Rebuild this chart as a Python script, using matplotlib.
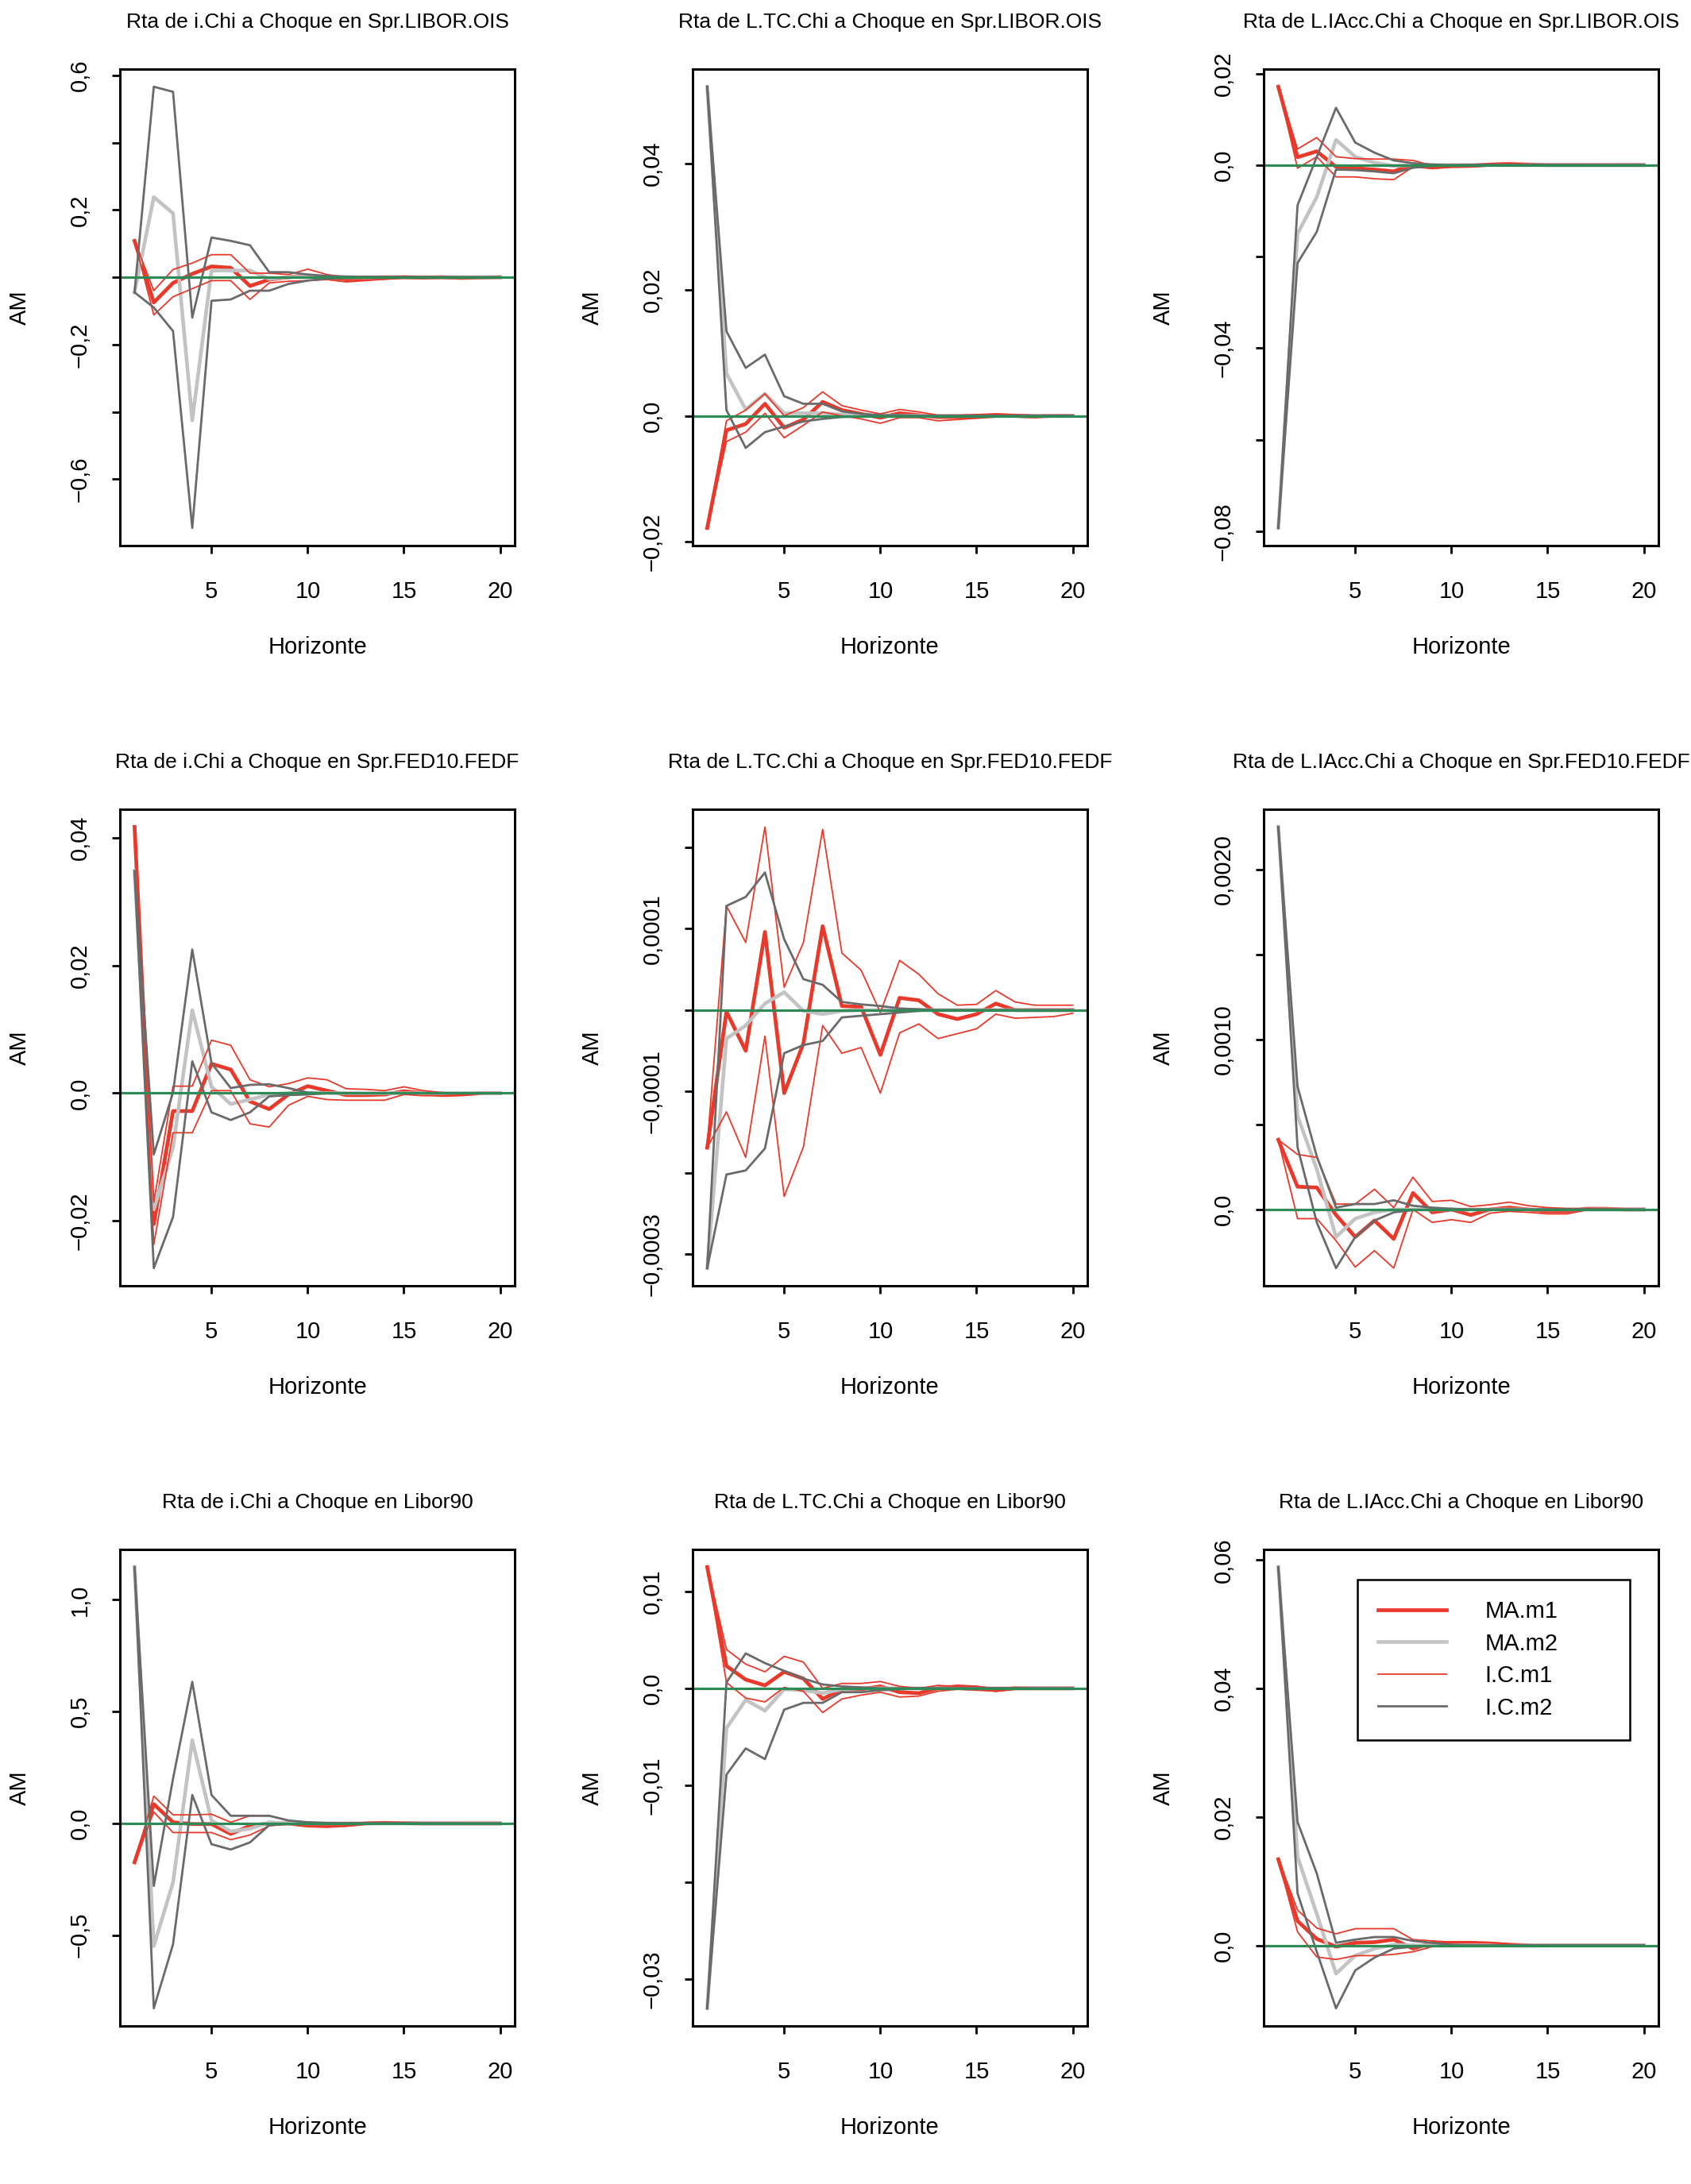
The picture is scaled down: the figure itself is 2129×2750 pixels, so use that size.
import numpy as np
import matplotlib
matplotlib.use('Agg')
import matplotlib.pyplot as plt

plt.rcParams['font.family'] = ['Liberation Sans', 'DejaVu Sans']

horizon = np.arange(1, 21)
xticks = [5, 10, 15, 20]

# ---- panel 1: i.Chi / Spr.LIBOR.OIS
p1_ma1 = [0.108, -0.075, -0.017, 0.010, 0.032, 0.028, -0.026, -0.007, 0.000, 0.005, 0.000, -0.006, -0.005, -0.002, 0.000, -0.001, 0.000, -0.002, -0.001, 0.000]
p1_hi1 = [0.108, -0.040, 0.023, 0.042, 0.067, 0.067, 0.012, 0.012, 0.008, 0.024, 0.008, 0.000, 0.002, 0.003, 0.003, 0.002, 0.002, 0.001, 0.001, 0.001]
p1_lo1 = [0.108, -0.112, -0.058, -0.034, -0.010, -0.010, -0.066, -0.017, -0.012, -0.010, -0.007, -0.014, -0.010, -0.006, -0.003, -0.004, -0.003, -0.004, -0.002, -0.001]
p1_ma2 = [-0.045, 0.238, 0.190, -0.425, 0.020, 0.020, 0.020, -0.005, 0.000, 0.002, 0.001, 0.000, 0.000, 0.000, 0.000, 0.000, 0.000, 0.000, 0.000, 0.000]
p1_hi2 = [-0.045, 0.566, 0.551, -0.120, 0.118, 0.108, 0.095, 0.015, 0.015, 0.008, 0.004, 0.002, 0.001, 0.001, 0.000, 0.000, 0.000, 0.000, 0.000, 0.000]
p1_lo2 = [-0.045, -0.090, -0.160, -0.745, -0.070, -0.066, -0.040, -0.040, -0.020, -0.010, -0.004, -0.002, -0.001, -0.001, 0.000, 0.000, 0.000, 0.000, 0.000, 0.000]

# ---- panel 2: L.TC.Chi / Spr.LIBOR.OIS
p2_ma1 = [-0.0178, -0.0023, -0.0013, 0.0019, -0.0019, -0.0006, 0.0022, 0.0009, 0.0003, -0.0003, 0.0004, 0.0001, -0.0002, -0.0002, -0.0001, 0.0001, 0.0000, -0.0001, 0.0000, 0.0000]
p2_hi1 = [-0.0178, -0.0008, 0.0009, 0.0035, 0.0000, 0.0013, 0.0038, 0.0016, 0.0009, 0.0003, 0.0010, 0.0006, 0.0001, 0.0001, 0.0002, 0.0003, 0.0002, 0.0001, 0.0001, 0.0001]
p2_lo1 = [-0.0178, -0.0041, -0.0026, 0.0004, -0.0035, -0.0015, 0.0006, 0.0000, -0.0005, -0.0012, -0.0003, -0.0003, -0.0008, -0.0006, -0.0004, -0.0002, -0.0002, -0.0003, -0.0001, -0.0001]
p2_ma2 = [0.0522, 0.0067, 0.0010, 0.0035, 0.0004, 0.0004, 0.0004, 0.0002, 0.0001, 0.0000, 0.0000, 0.0000, 0.0000, 0.0000, 0.0000, 0.0000, 0.0000, 0.0000, 0.0000, 0.0000]
p2_hi2 = [0.0522, 0.0134, 0.0076, 0.0097, 0.0031, 0.0019, 0.0019, 0.0007, 0.0003, 0.0001, 0.0001, 0.0000, 0.0000, 0.0000, 0.0000, 0.0000, 0.0000, 0.0000, 0.0000, 0.0000]
p2_lo2 = [0.0522, 0.0009, -0.0051, -0.0026, -0.0017, -0.0009, -0.0005, -0.0002, -0.0001, 0.0000, 0.0000, 0.0000, 0.0000, 0.0000, 0.0000, 0.0000, 0.0000, 0.0000, 0.0000, 0.0000]

# ---- panel 3: L.IAcc.Chi / Spr.LIBOR.OIS
p3_ma1 = [0.0171, 0.0017, 0.0030, -0.0004, -0.0007, -0.0010, -0.0014, 0.0001, -0.0004, -0.0002, -0.0002, 0.0001, 0.0002, 0.0001, 0.0000, 0.0000, 0.0000, 0.0000, 0.0000, 0.0000]
p3_hi1 = [0.0171, 0.0035, 0.0060, 0.0018, 0.0014, 0.0013, 0.0013, 0.0010, -0.0001, 0.0000, 0.0001, 0.0003, 0.0004, 0.0002, 0.0001, 0.0001, 0.0001, 0.0000, 0.0000, 0.0000]
p3_lo1 = [0.0171, -0.0007, 0.0018, -0.0026, -0.0026, -0.0030, -0.0032, -0.0004, -0.0008, -0.0005, -0.0004, -0.0002, 0.0000, -0.0001, -0.0001, -0.0001, 0.0000, 0.0000, 0.0000, 0.0000]
p3_ma2 = [-0.0793, -0.0150, -0.0070, 0.0055, 0.0018, 0.0005, -0.0002, 0.0000, 0.0000, 0.0000, 0.0000, 0.0000, 0.0000, 0.0000, 0.0000, 0.0000, 0.0000, 0.0000, 0.0000, 0.0000]
p3_hi2 = [-0.0793, -0.0088, 0.0018, 0.0125, 0.0049, 0.0027, 0.0010, 0.0004, 0.0001, 0.0000, 0.0000, 0.0000, 0.0000, 0.0000, 0.0000, 0.0000, 0.0000, 0.0000, 0.0000, 0.0000]
p3_lo2 = [-0.0793, -0.0214, -0.0146, -0.0010, -0.0011, -0.0014, -0.0018, -0.0006, -0.0002, -0.0001, 0.0000, 0.0000, 0.0000, 0.0000, 0.0000, 0.0000, 0.0000, 0.0000, 0.0000, 0.0000]

# ---- panel 4: i.Chi / Spr.FED10.FEDF
p4_ma1 = [0.0417, -0.0205, -0.0028, -0.0028, 0.0046, 0.0037, -0.0013, -0.0025, -0.0002, 0.0011, 0.0004, -0.0003, -0.0003, -0.0002, 0.0003, 0.0000, -0.0003, -0.0002, 0.0000, 0.0000]
p4_hi1 = [0.0417, -0.0171, 0.0011, 0.0011, 0.0083, 0.0075, 0.0021, 0.0010, 0.0015, 0.0024, 0.0021, 0.0007, 0.0006, 0.0004, 0.0010, 0.0004, 0.0001, 0.0000, 0.0000, 0.0000]
p4_lo1 = [0.0417, -0.0237, -0.0062, -0.0062, 0.0004, 0.0004, -0.0048, -0.0053, -0.0019, -0.0005, -0.0010, -0.0011, -0.0011, -0.0011, -0.0002, -0.0004, -0.0004, -0.0003, -0.0001, 0.0000]
p4_ma2 = [0.0348, -0.0182, -0.0085, 0.0130, 0.0010, -0.0017, -0.0010, -0.0002, 0.0000, 0.0000, 0.0000, 0.0000, 0.0000, 0.0000, 0.0000, 0.0000, 0.0000, 0.0000, 0.0000, 0.0000]
p4_hi2 = [0.0348, -0.0096, 0.0001, 0.0225, 0.0047, 0.0008, 0.0013, 0.0014, 0.0008, 0.0001, 0.0000, 0.0000, 0.0000, 0.0000, 0.0000, 0.0000, 0.0000, 0.0000, 0.0000, 0.0000]
p4_lo2 = [0.0348, -0.0274, -0.0194, 0.0050, -0.0030, -0.0042, -0.0030, -0.0005, -0.0003, -0.0002, 0.0000, 0.0000, 0.0000, 0.0000, 0.0000, 0.0000, 0.0000, 0.0000, 0.0000, 0.0000]

# ---- panel 5: L.TC.Chi / Spr.FED10.FEDF
p5_ma1 = [-1.69e-4, -0.02e-4, -0.50e-4, 0.96e-4, -1.02e-4, -0.41e-4, 1.03e-4, 0.05e-4, 0.04e-4, -0.55e-4, 0.15e-4, 0.12e-4, -0.05e-4, -0.11e-4, -0.05e-4, 0.08e-4, 0.00, 0.00, 0.00, 0.00]
p5_hi1 = [-1.66e-4, 1.28e-4, 0.83e-4, 2.25e-4, 0.28e-4, 0.83e-4, 2.22e-4, 0.70e-4, 0.49e-4, -0.03e-4, 0.61e-4, 0.44e-4, 0.20e-4, 0.06e-4, 0.07e-4, 0.24e-4, 0.10e-4, 0.06e-4, 0.06e-4, 0.06e-4]
p5_lo1 = [-1.69e-4, -1.25e-4, -1.81e-4, -0.32e-4, -2.29e-4, -1.68e-4, -0.19e-4, -0.53e-4, -0.46e-4, -1.02e-4, -0.28e-4, -0.17e-4, -0.35e-4, -0.29e-4, -0.23e-4, -0.05e-4, -0.10e-4, -0.09e-4, -0.08e-4, -0.04e-4]
p5_ma2 = [-3.17e-4, -0.35e-4, -0.19e-4, 0.08e-4, 0.22e-4, -0.01e-4, -0.05e-4, -0.01e-4, 0.00, 0.00, 0.00, 0.00, 0.00, 0.00, 0.00, 0.00, 0.00, 0.00, 0.00, 0.00]
p5_hi2 = [-3.17e-4, 1.28e-4, 1.39e-4, 1.69e-4, 0.87e-4, 0.38e-4, 0.31e-4, 0.10e-4, 0.07e-4, 0.05e-4, 0.02e-4, 0.01e-4, 0.00, 0.00, 0.00, 0.00, 0.00, 0.00, 0.00, 0.00]
p5_lo2 = [-3.17e-4, -2.02e-4, -1.97e-4, -1.70e-4, -0.53e-4, -0.43e-4, -0.38e-4, -0.09e-4, -0.07e-4, -0.05e-4, -0.03e-4, -0.01e-4, 0.00, 0.00, 0.00, 0.00, 0.00, 0.00, 0.00, 0.00]

# ---- panel 6: L.IAcc.Chi / Spr.FED10.FEDF
p6_ma1 = [4.10e-4, 1.34e-4, 1.29e-4, -0.32e-4, -1.62e-4, -0.65e-4, -1.73e-4, 0.97e-4, -0.17e-4, 0.00, -0.32e-4, 0.00, 0.11e-4, 0.00, -0.11e-4, -0.11e-4, 0.04e-4, 0.04e-4, 0.00, 0.00]
p6_hi1 = [4.10e-4, 3.24e-4, 3.06e-4, 0.32e-4, 0.32e-4, 1.19e-4, 0.11e-4, 1.90e-4, 0.47e-4, 0.54e-4, 0.17e-4, 0.28e-4, 0.43e-4, 0.22e-4, 0.11e-4, 0.06e-4, 0.06e-4, 0.04e-4, 0.02e-4, 0.00]
p6_lo1 = [4.10e-4, -0.54e-4, -0.54e-4, -1.83e-4, -3.39e-4, -2.42e-4, -3.45e-4, 0.00, -0.76e-4, -0.60e-4, -0.76e-4, -0.22e-4, -0.11e-4, -0.17e-4, -0.26e-4, -0.26e-4, -0.04e-4, -0.04e-4, -0.02e-4, 0.00]
p6_ma2 = [22.5e-4, 5.50e-4, 2.37e-4, -1.62e-4, -0.54e-4, -0.17e-4, 0.00, 0.00, 0.00, 0.00, 0.00, 0.00, 0.00, 0.00, 0.00, 0.00, 0.00, 0.00, 0.00, 0.00]
p6_hi2 = [22.5e-4, 7.23e-4, 3.13e-4, 0.11e-4, 0.32e-4, 0.32e-4, 0.54e-4, 0.22e-4, 0.11e-4, 0.04e-4, 0.00, 0.00, 0.00, 0.00, 0.00, 0.00, 0.00, 0.00, 0.00, 0.00]
p6_lo2 = [22.5e-4, 3.67e-4, -0.76e-4, -3.45e-4, -1.62e-4, -0.65e-4, -0.17e-4, -0.04e-4, 0.00, 0.00, 0.00, 0.00, 0.00, 0.00, 0.00, 0.00, 0.00, 0.00, 0.00, 0.00]

# ---- panel 7: i.Chi / Libor90
p7_ma1 = [-0.174, 0.086, 0.005, -0.003, -0.003, -0.047, -0.011, 0.000, 0.000, -0.010, -0.012, -0.008, 0.000, 0.002, 0.001, 0.000, 0.000, 0.000, 0.000, 0.000]
p7_hi1 = [-0.174, 0.122, 0.038, 0.038, 0.041, 0.005, 0.034, 0.034, 0.013, 0.005, 0.002, 0.002, 0.004, 0.006, 0.003, 0.001, 0.001, 0.000, 0.000, 0.000]
p7_lo1 = [-0.174, 0.051, -0.041, -0.041, -0.041, -0.073, -0.052, -0.011, -0.003, -0.014, -0.016, -0.012, -0.004, -0.002, -0.002, -0.001, -0.001, 0.000, 0.000, 0.000]
p7_ma2 = [1.146, -0.549, -0.264, 0.372, 0.013, -0.036, -0.024, 0.005, 0.000, 0.000, 0.000, 0.000, 0.000, 0.000, 0.000, 0.000, 0.000, 0.000, 0.000, 0.000]
p7_hi2 = [1.146, -0.280, 0.200, 0.633, 0.127, 0.034, 0.034, 0.034, 0.013, 0.005, 0.002, 0.000, 0.000, 0.000, 0.000, 0.000, 0.000, 0.000, 0.000, 0.000]
p7_lo2 = [1.146, -0.827, -0.541, 0.127, -0.093, -0.117, -0.085, -0.008, -0.003, -0.002, -0.001, 0.000, 0.000, 0.000, 0.000, 0.000, 0.000, 0.000, 0.000, 0.000]

# ---- panel 8: L.TC.Chi / Libor90
p8_ma1 = [0.0125, 0.0023, 0.0009, 0.0003, 0.0017, 0.0010, -0.0011, -0.0001, -0.0001, 0.0002, -0.0004, -0.0005, 0.0000, 0.0002, 0.0001, -0.0002, 0.0000, 0.0000, 0.0000, 0.0000]
p8_hi1 = [0.0125, 0.0040, 0.0025, 0.0017, 0.0033, 0.0027, 0.0000, 0.0005, 0.0005, 0.0007, 0.0002, 0.0000, 0.0003, 0.0002, 0.0002, 0.0000, 0.0001, 0.0000, 0.0000, 0.0000]
p8_lo1 = [0.0125, 0.0006, -0.0010, -0.0014, 0.0001, -0.0003, -0.0025, -0.0011, -0.0007, -0.0004, -0.0009, -0.0008, -0.0003, -0.0001, -0.0002, -0.0003, -0.0001, -0.0001, 0.0000, 0.0000]
p8_ma2 = [-0.0330, -0.0041, -0.0012, -0.0023, -0.0001, -0.0002, -0.0005, -0.0001, 0.0000, 0.0000, 0.0000, 0.0000, 0.0000, 0.0000, 0.0000, 0.0000, 0.0000, 0.0000, 0.0000, 0.0000]
p8_hi2 = [-0.0330, 0.0006, 0.0036, 0.0026, 0.0018, 0.0010, 0.0004, 0.0002, 0.0001, 0.0000, 0.0000, 0.0000, 0.0000, 0.0000, 0.0000, 0.0000, 0.0000, 0.0000, 0.0000, 0.0000]
p8_lo2 = [-0.0330, -0.0089, -0.0062, -0.0073, -0.0022, -0.0015, -0.0015, -0.0004, -0.0004, -0.0002, -0.0001, 0.0000, 0.0000, 0.0000, 0.0000, 0.0000, 0.0000, 0.0000, 0.0000, 0.0000]

# ---- panel 9: L.IAcc.Chi / Libor90
p9_ma1 = [0.0134, 0.0038, 0.0010, -0.0002, 0.0004, 0.0005, 0.0009, -0.0005, 0.0004, 0.0004, 0.0004, 0.0003, 0.0001, 0.0000, 0.0000, 0.0000, 0.0000, 0.0000, 0.0000, 0.0000]
p9_hi1 = [0.0134, 0.0055, 0.0027, 0.0018, 0.0026, 0.0026, 0.0026, 0.0009, 0.0007, 0.0005, 0.0005, 0.0004, 0.0002, 0.0001, 0.0000, 0.0000, 0.0000, 0.0000, 0.0000, 0.0000]
p9_lo1 = [0.0134, 0.0021, -0.0018, -0.0022, -0.0016, -0.0016, -0.0014, -0.0010, -0.0002, -0.0002, -0.0001, 0.0000, 0.0000, 0.0000, 0.0000, 0.0000, 0.0000, 0.0000, 0.0000, 0.0000]
p9_ma2 = [0.0589, 0.0138, 0.0049, -0.0044, -0.0016, -0.0005, 0.0001, 0.0000, 0.0000, 0.0000, 0.0000, 0.0000, 0.0000, 0.0000, 0.0000, 0.0000, 0.0000, 0.0000, 0.0000, 0.0000]
p9_hi2 = [0.0589, 0.0192, 0.0112, 0.0004, 0.0009, 0.0013, 0.0013, 0.0007, 0.0004, 0.0001, 0.0000, 0.0000, 0.0000, 0.0000, 0.0000, 0.0000, 0.0000, 0.0000, 0.0000, 0.0000]
p9_lo2 = [0.0589, 0.0081, -0.0010, -0.0098, -0.0039, -0.0019, -0.0005, -0.0002, -0.0001, 0.0000, 0.0000, 0.0000, 0.0000, 0.0000, 0.0000, 0.0000, 0.0000, 0.0000, 0.0000, 0.0000]

titles = ['Rta de i.Chi a Choque en Spr.LIBOR.OIS',
          'Rta de L.TC.Chi a Choque en Spr.LIBOR.OIS',
          'Rta de L.IAcc.Chi a Choque en Spr.LIBOR.OIS',
          'Rta de i.Chi a Choque en Spr.FED10.FEDF',
          'Rta de L.TC.Chi a Choque en Spr.FED10.FEDF',
          'Rta de L.IAcc.Chi a Choque en Spr.FED10.FEDF',
          'Rta de i.Chi a Choque en Libor90',
          'Rta de L.TC.Chi a Choque en Libor90',
          'Rta de L.IAcc.Chi a Choque en Libor90']

yticks = [[-0.6, -0.4, -0.2, 0.0, 0.2, 0.4, 0.6],
          [-0.02, 0.0, 0.02, 0.04],
          [-0.08, -0.06, -0.04, -0.02, 0.0, 0.02],
          [-0.02, 0.0, 0.02, 0.04],
          [-0.0003, -0.0002, -0.0001, 0.0, 0.0001, 0.0002],
          [0.0, 0.0005, 0.0010, 0.0015, 0.0020],
          [-0.5, 0.0, 0.5, 1.0],
          [-0.03, -0.02, -0.01, 0.0, 0.01],
          [0.0, 0.02, 0.04, 0.06]]
ylabels = [['\u22120,6', '', '\u22120,2', '', '0,2', '', '0,6'],
           ['\u22120,02', '0,0', '0,02', '0,04'],
           ['\u22120,08', '', '\u22120,04', '', '0,0', '0,02'],
           ['\u22120,02', '0,0', '0,02', '0,04'],
           ['\u22120,0003', '', '\u22120,0001', '', '0,0001', ''],
           ['0,0', '', '0,0010', '', '0,0020'],
           ['\u22120,5', '0,0', '0,5', '1,0'],
           ['\u22120,03', '', '\u22120,01', '0,0', '0,01'],
           ['0,0', '0,02', '0,04', '0,06']]

panels = [(p1_ma1, p1_ma2, p1_lo1, p1_hi1, p1_lo2, p1_hi2),
          (p2_ma1, p2_ma2, p2_lo1, p2_hi1, p2_lo2, p2_hi2),
          (p3_ma1, p3_ma2, p3_lo1, p3_hi1, p3_lo2, p3_hi2),
          (p4_ma1, p4_ma2, p4_lo1, p4_hi1, p4_lo2, p4_hi2),
          (p5_ma1, p5_ma2, p5_lo1, p5_hi1, p5_lo2, p5_hi2),
          (p6_ma1, p6_ma2, p6_lo1, p6_hi1, p6_lo2, p6_hi2),
          (p7_ma1, p7_ma2, p7_lo1, p7_hi1, p7_lo2, p7_hi2),
          (p8_ma1, p8_ma2, p8_lo1, p8_hi1, p8_lo2, p8_hi2),
          (p9_ma1, p9_ma2, p9_lo1, p9_hi1, p9_lo2, p9_hi2)]

RED = '#E8392B'
LIGHT = '#C3C3C3'
DARK = '#6A6A6A'
GREEN = '#2E8B57'

W, H = 2129, 2750
fig = plt.figure(figsize=(W / 100, H / 100), dpi=100)

col_left = [151, 872, 1591]
row_top = [87, 1019, 1951]
bw, bh = 497, 600

for i in range(9):
    r, c = divmod(i, 3)
    ax = fig.add_axes([col_left[c] / W, 1 - (row_top[r] + bh) / H, bw / W, bh / H])
    ma1, ma2, lo1, hi1, lo2, hi2 = panels[i]
    ax.plot(horizon, ma1, color=RED, lw=3.4, label='MA.m1')
    ax.plot(horizon, ma2, color=LIGHT, lw=3.3, label='MA.m2')
    ax.plot(horizon, lo1, color=RED, lw=1.3, label='I.C.m1')
    ax.plot(horizon, hi1, color=RED, lw=1.3)
    ax.plot(horizon, lo2, color=DARK, lw=2.0, label='I.C.m2')
    ax.plot(horizon, hi2, color=DARK, lw=2.0)
    ax.axhline(0, color=GREEN, lw=2.3)
    ax.margins(x=0.04, y=0.04)

    ax.set_xticks(xticks)
    ax.set_xticklabels([str(t) for t in xticks])
    ax.set_yticks(yticks[i])
    ax.set_yticklabels(ylabels[i], rotation=90, va='center')
    ax.tick_params(axis='both', direction='out', length=7, width=2.0, labelsize=21)
    ax.tick_params(axis='y', pad=19)
    ax.tick_params(axis='x', pad=25)
    for s in ax.spines.values():
        s.set_linewidth(2.2)

    ax.text(0.5, 1 + 59 / bh, titles[i], transform=ax.transAxes,
            ha='center', va='center', fontsize=19)
    ax.set_xlabel('Horizonte', fontsize=21)
    ax.xaxis.set_label_coords(0.5, -128 / bh)
    ax.xaxis.label.set_verticalalignment('center')
    ax.set_ylabel('AM', fontsize=21)
    ax.yaxis.set_label_coords(-126 / bw, 0.5)
    ax.yaxis.label.set_verticalalignment('center')

    if i == 8:
        leg = ax.legend(loc='upper left', bbox_to_anchor=(0.237, 0.603, 0.691, 0.334),
                        mode='expand', fontsize=21, frameon=True, fancybox=False,
                        edgecolor='black', framealpha=1, handlelength=2.95,
                        handletextpad=1.65, labelspacing=0.43, borderpad=0.9,
                        borderaxespad=0)
        leg.get_frame().set_linewidth(1.8)

fig.savefig('out.png', dpi=100)
